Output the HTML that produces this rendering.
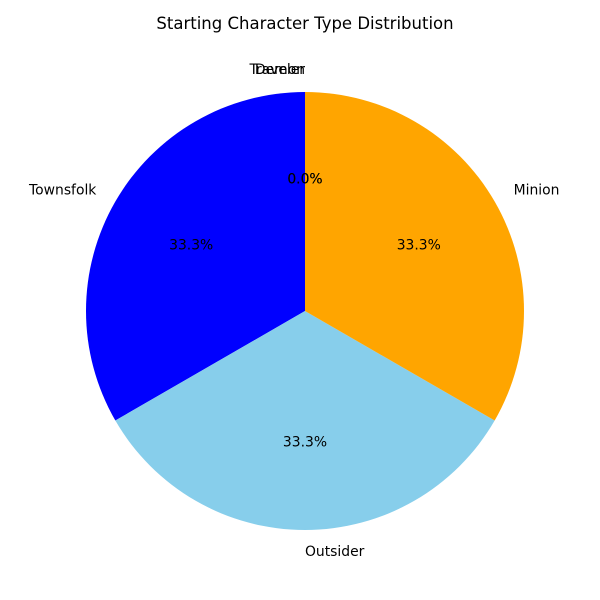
<!DOCTYPE html>
<html><head><meta charset="utf-8"><style>
html,body{margin:0;padding:0;background:#fff;}
svg{display:block;font-family:"DejaVu Sans","Liberation Sans",sans-serif;}
</style></head><body>
<svg id="chart" width="600" height="600" viewBox="0 0 600 600">
<text x="305" y="29" text-anchor="middle" font-size="16.5">Starting Character Type Distribution</text>
<g id="slices"></g>
<g id="labels"></g>
</svg>
<script>
const categories = ["Townsfolk", "Outsider", "Minion", "Traveler", "Demon"];
const values = [1, 1, 1, 0, 0];
const colors = ["#0000ff", "#87ceeb", "#ffa500", "#90ee90", "#ff0000"];
const cx = 305, cy = 311, r = 219, startAngle = 90;
const NS = "http://www.w3.org/2000/svg";
const sg = document.getElementById('slices'), lg = document.getElementById('labels');
const total = values.reduce((a,b)=>a+b,0);
function pt(a, rr){const t=a*Math.PI/180;return [cx+rr*Math.cos(t), cy-rr*Math.sin(t)];}
let a0 = startAngle;
values.forEach((v,i)=>{
  const sweep = total ? v/total*360 : 0;
  const a1 = a0 + sweep;
  const key = categories[i].toLowerCase();
  if (sweep > 0) {
    const p0 = pt(a0,r), p1 = pt(a1,r);
    const large = sweep > 180 ? 1 : 0;
    const path = document.createElementNS(NS,'path');
    path.setAttribute('d', `M${cx},${cy} L${p0[0]},${p0[1]} A${r},${r} 0 ${large} 0 ${p1[0]},${p1[1]} Z`);
    path.setAttribute('fill', colors[i]);
    
    
    sg.appendChild(path);
  }
  const mid = (a0+a1)/2;
  const lp = pt(mid, r*1.1);
  const cosv = Math.cos(mid*Math.PI/180), sinv = Math.sin(mid*Math.PI/180);
  const anchor = cosv > 1e-9 ? 'start' : (cosv < -1e-9 ? 'end' : (sinv > 0 ? 'end' : 'start'));
  const lab = document.createElementNS(NS,'text');
  lab.setAttribute('x', lp[0]); lab.setAttribute('y', lp[1]+4);
  lab.setAttribute('font-size', '13.9');
  lab.setAttribute('text-anchor', anchor);
  lab.textContent = categories[i];
  
  
  lg.appendChild(lab);
  const pp = pt(mid, r*0.6);
  const pc = document.createElementNS(NS,'text');
  pc.setAttribute('x', pp[0]); pc.setAttribute('y', pp[1]+4);
  pc.setAttribute('font-size', '13.9');
  pc.setAttribute('text-anchor', 'middle');
  pc.textContent = (total ? v/total*100 : 0).toFixed(1) + '%';
  
  
  lg.appendChild(pc);
  a0 = a1;
});
</script>
</body></html>
